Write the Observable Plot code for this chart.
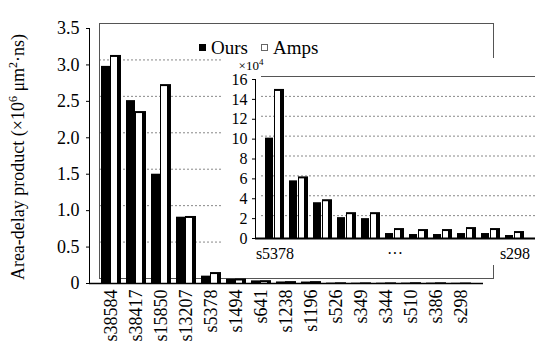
<!DOCTYPE html>
<html>
<head>
<meta charset="utf-8">
<script src="https://cdn.jsdelivr.net/npm/d3@7"></script>
<script src="https://cdn.jsdelivr.net/npm/@observablehq/plot@0.6"></script>
<style>
  html, body { margin: 0; padding: 0; background: #fff; }
  #wrap { position: relative; width: 535px; height: 354px; font-family: "Liberation Serif", "DejaVu Serif", serif; }
  #main, #inset { position: absolute; left: 0; top: 0; }
  #inset { left: 222px; top: 58px; background: #fff; }
  #legend { position: absolute; left: 199px; top: 37px; font-size: 19px; line-height: 22px; white-space: nowrap; }
  .sw { display: inline-block; width: 5px; height: 5px; border: 1px solid #000; vertical-align: 3px; margin-right: 5px; }
</style>
</head>
<body>
<div id="wrap">
  <div id="main"></div>
  <div id="legend"><span class="sw" style="background:#000"></span>Ours<span style="display:inline-block;width:13px"></span><span class="sw" style="background:#fff;border-color:#666"></span>Amps</div>
  <div id="inset"></div>
</div>
<script>
// Main chart (×10^6 μm²·ns)
const categories = ["s38584","s38417","s15850","s13207","s5378","s1494","s641","s1238","s1196","s526","s349","s344","s510","s386","s298"];
const bigCategories = ["s38584","s38417","s15850","s13207"];
const oursBig = [2.98, 2.51, 1.50, 0.91];
const ampsBig = [3.13, 2.36, 2.73, 0.92];
const mainTicks = [0, 0.5, 1.0, 1.5, 2.0, 2.5, 3.0, 3.5];

// Inset chart (×10^4 μm²·ns)
const insetCategories = ["s5378","s1494","s641","s1238","s1196","s526","s349","s344","s510","s386","s298"];
const oursSmall = [10.1, 5.8, 3.6, 2.1, 2.0, 0.5, 0.4, 0.4, 0.5, 0.5, 0.3];
const ampsSmall = [15.0, 6.2, 3.9, 2.6, 2.6, 1.0, 0.9, 0.9, 1.1, 1.0, 0.7];
const insetTicks = [0, 2, 4, 6, 8, 10, 12, 14, 16];
const insetTickLabels = {"s5378": "s5378", "s526": "···", "s298": "s298"};

const mainData = [
  ...bigCategories.map((c, i) => ({cat: c, ours: oursBig[i], amps: ampsBig[i]})),
  ...insetCategories.map((c, i) => ({cat: c, ours: oursSmall[i] / 100, amps: ampsSmall[i] / 100}))
];
const insetData = insetCategories.map((c, i) => ({cat: c, ours: oursSmall[i], amps: ampsSmall[i]}));

const fmtMain = d => d === 0 ? "0" : d.toFixed(1);

function barMarks(data) {
  return [
    // Ours: solid black
    Plot.barY(data, {x: "cat", y: "ours", fill: "#000", insetLeft: 0, insetRight: 11}),
    // Amps: black 3D shell with white face
    Plot.barY(data, {x: "cat", y: "amps", fill: "#000", insetLeft: 9, insetRight: 0}),
    Plot.barY(data, {x: "cat", y: "amps", fill: "#fff", insetLeft: 10, insetRight: 4, insetTop: 2})
  ];
}

const main = Plot.plot({
  width: 535, height: 354,
  marginLeft: 89, marginRight: 52, marginTop: 28, marginBottom: 71,
  style: {fontFamily: "Liberation Serif, serif", fontSize: "18px", color: "#000", background: "transparent"},
  x: {domain: categories, padding: 0.2, label: null, tickRotate: -90, tickSize: 0, tickPadding: 6},
  y: {domain: [0, 3.5], ticks: mainTicks, tickFormat: fmtMain, label: null, tickSize: 3, tickPadding: 7, line: true},
  marks: [
    Plot.ruleY(mainTicks.filter(d => d > 0 && d < 3.5), {stroke: "#888", strokeDasharray: "2,2", dx: 10, dy: -5}),
    Plot.frame({stroke: "#555", dx: 10, dy: -5}),
    ...barMarks(mainData),
    Plot.ruleY([0], {stroke: "#000", strokeWidth: 1.5})
  ]
});
main.style.overflow = "visible";
document.getElementById("main").appendChild(main);

// y-axis title
d3.select(main).append("text")
  .attr("transform", "translate(24,157) rotate(-90)")
  .attr("text-anchor", "middle")
  .attr("font-size", 18)
  .attr("font-family", "Liberation Serif, serif")
  .attr("fill", "#000")
  .html('Area-delay product (×10<tspan dy="-7" font-size="12">6</tspan><tspan dy="7"> μm</tspan><tspan dy="-7" font-size="12">2</tspan><tspan dy="7">·ns)</tspan>');

const inset = Plot.plot({
  width: 313, height: 207,
  marginLeft: 33, marginRight: 0, marginTop: 21, marginBottom: 27,
  style: {fontFamily: "Liberation Serif, serif", fontSize: "16px", color: "#000", background: "#fff"},
  x: {domain: insetCategories, padding: 0.2, label: null, tickSize: 0, tickPadding: 9, tickFormat: d => insetTickLabels[d] || ""},
  y: {domain: [0, 16], ticks: insetTicks, label: null, tickSize: 3, tickPadding: 5, line: true},
  marks: [
    Plot.ruleY(insetTicks.filter(d => d > 0 && d < 16), {stroke: "#888", strokeDasharray: "2,2", dx: 6, dy: -3}),
    Plot.ruleY([16], {stroke: "#555", dx: 6, dy: -3}),
    ...barMarks(insetData),
    Plot.ruleY([0], {stroke: "#000", strokeWidth: 2})
  ]
});
inset.style.overflow = "visible";
document.getElementById("inset").appendChild(inset);
d3.select(inset).append("text")
  .attr("x", 29).attr("y", 12)
  .attr("font-size", 13)
  .attr("font-family", "Liberation Serif, serif")
  .attr("fill", "#000")
  .html('×10<tspan dy="-5" font-size="9">4</tspan>');
</script>
</body>
</html>
